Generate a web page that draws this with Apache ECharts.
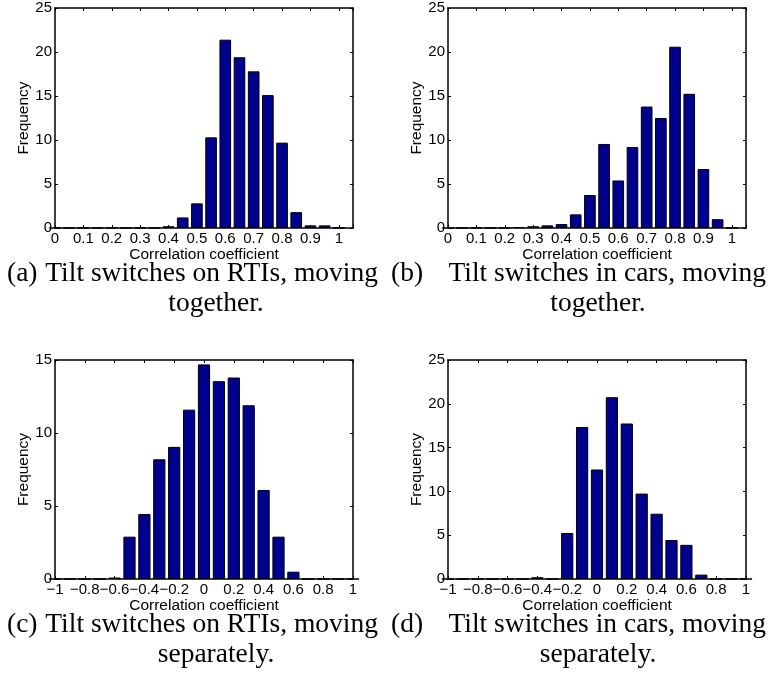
<!DOCTYPE html>
<html>
<head>
<meta charset="utf-8">
<script src="https://cdn.jsdelivr.net/npm/echarts@6/dist/echarts.min.js"></script>
<style>
  html, body { margin: 0; padding: 0; background: #ffffff; }
  #chart { width: 768px; height: 680px; }
</style>
</head>
<body>
<div id="chart"></div>
<script>
// Histogram bin centres
const binsTogether = [0, 0.05, 0.1, 0.15, 0.2, 0.25, 0.3, 0.35, 0.4, 0.45, 0.5,
                      0.55, 0.6, 0.65, 0.7, 0.75, 0.8, 0.85, 0.9, 0.95, 1];
const binsSeparate = [-1, -0.9, -0.8, -0.7, -0.6, -0.5, -0.4, -0.3, -0.2, -0.1, 0,
                      0.1, 0.2, 0.3, 0.4, 0.5, 0.6, 0.7, 0.8, 0.9, 1];

// Frequencies (%) per bin
const freqRtiTogether = [0, 0, 0, 0, 0, 0, 0, 0, 0.2, 1.2, 2.8,
                         10.3, 21.4, 19.4, 17.8, 15.1, 9.7, 1.8, 0.3, 0.3, 0];
const freqCarTogether = [0, 0, 0, 0, 0, 0.1, 0.2, 0.3, 0.45, 1.55, 3.75,
                         9.55, 5.4, 9.2, 13.8, 12.5, 20.6, 15.25, 6.7, 1.0, 0];
const freqRtiSeparate = [0, 0, 0, 0, 0.1, 2.9, 4.45, 8.2, 9.05, 11.6, 14.7,
                         13.55, 13.8, 11.9, 6.1, 2.9, 0.5, 0, 0, 0, 0];
const freqCarSeparate = [0, 0, 0, 0, 0, 0, 0.2, 0, 5.25, 17.35, 12.5,
                         20.75, 17.75, 9.75, 7.45, 4.45, 3.9, 0.5, 0, 0, 0];

// Tick values and labels
const xTicksTogether = [0, 0.1, 0.2, 0.3, 0.4, 0.5, 0.6, 0.7, 0.8, 0.9, 1];
const xLabelsTogether = ['0', '0.1', '0.2', '0.3', '0.4', '0.5', '0.6', '0.7', '0.8', '0.9', '1'];
const xTicksSeparate = [-1, -0.8, -0.6, -0.4, -0.2, 0, 0.2, 0.4, 0.6, 0.8, 1];
const xLabelsSeparate = ['\u22121', '\u22120.8', '\u22120.6', '\u22120.4', '\u22120.2', '0', '0.2', '0.4', '0.6', '0.8', '1'];
const yTicks25 = [0, 5, 10, 15, 20, 25];
const yLabels25 = ['0', '5', '10', '15', '20', '25'];
const yTicks15 = [0, 5, 10, 15];
const yLabels15 = ['0', '5', '10', '15'];

const xAxisTitle = 'Correlation coefficient';
const yAxisTitle = 'Frequency';

const captionLabels = ['(a)', '(b)', '(c)', '(d)'];
const captionLines1 = ['Tilt switches on RTIs, moving', 'Tilt switches in cars, moving',
                       'Tilt switches on RTIs, moving', 'Tilt switches in cars, moving'];
const captionLines2 = ['together.', 'together.', 'separately.', 'separately.'];

// Panel setup: grid rectangle [left, top, width, height] and axis ranges
const panels = [
  { rect: [55, 8, 298, 220],   bins: binsTogether, freq: freqRtiTogether, xMin: 0,  xMax: 1.05, xInt: 0.1, xt: xTicksTogether, xl: xLabelsTogether, yMax: 25, yt: yTicks25, yl: yLabels25 },
  { rect: [448, 8, 298, 220],  bins: binsTogether, freq: freqCarTogether, xMin: 0,  xMax: 1.05, xInt: 0.1, xt: xTicksTogether, xl: xLabelsTogether, yMax: 25, yt: yTicks25, yl: yLabels25 },
  { rect: [55, 360, 298, 219], bins: binsSeparate, freq: freqRtiSeparate, xMin: -1, xMax: 1,    xInt: 0.2, xt: xTicksSeparate, xl: xLabelsSeparate, yMax: 15, yt: yTicks15, yl: yLabels15 },
  { rect: [448, 360, 298, 219],bins: binsSeparate, freq: freqCarSeparate, xMin: -1, xMax: 1,    xInt: 0.2, xt: xTicksSeparate, xl: xLabelsSeparate, yMax: 25, yt: yTicks25, yl: yLabels25 }
];

const sansFont = 'Liberation Sans, Arial, Helvetica, sans-serif';
const serifFont = 'Liberation Serif, Times New Roman, serif';
const ink = '#000000';

function labelFor(ticks, labels) {
  return function (v) {
    for (let j = 0; j < ticks.length; j++) {
      if (Math.abs(ticks[j] - v) < 1e-6) return labels[j];
    }
    return '';
  };
}

const grids = [], xAxes = [], yAxes = [], series = [];

panels.forEach(function (p, i) {
  grids.push({ left: p.rect[0], top: p.rect[1], width: p.rect[2], height: p.rect[3], containLabel: false });

  const tick = { show: true, inside: true, length: 3, lineStyle: { color: ink, width: 1 } };
  const line = { show: true, onZero: false, lineStyle: { color: ink, width: 1.5 } };

  // bottom axis with labels
  xAxes.push({
    type: 'value', gridIndex: i, position: 'bottom', min: p.xMin, max: p.xMax, interval: p.xInt,
    axisLine: line, axisTick: tick, splitLine: { show: false },
    axisLabel: { show: true, margin: 3, color: ink, fontFamily: sansFont, fontSize: 15,
                 formatter: labelFor(p.xt, p.xl) },
    name: xAxisTitle, nameLocation: 'middle', nameGap: 16,
    nameTextStyle: { color: ink, fontFamily: sansFont, fontSize: 15.5 }
  });
  // top mirror axis
  xAxes.push({
    type: 'value', gridIndex: i, position: 'top', min: p.xMin, max: p.xMax, interval: p.xInt,
    axisLine: line, axisTick: tick, splitLine: { show: false }, axisLabel: { show: false }
  });
  // left axis with labels
  yAxes.push({
    type: 'value', gridIndex: i, position: 'left', min: 0, max: p.yMax, interval: 5,
    axisLine: line, axisTick: tick, splitLine: { show: false },
    axisLabel: { show: true, margin: 3, color: ink, fontFamily: sansFont, fontSize: 15,
                 formatter: labelFor(p.yt, p.yl) },
    name: yAxisTitle, nameLocation: 'middle', nameGap: 18, nameRotate: 90,
    nameTextStyle: { color: ink, fontFamily: sansFont, fontSize: 15.5 }
  });
  // right mirror axis
  yAxes.push({
    type: 'value', gridIndex: i, position: 'right', min: 0, max: p.yMax, interval: 5,
    axisLine: line, axisTick: tick, splitLine: { show: false }, axisLabel: { show: false }
  });

  series.push({
    type: 'bar',
    xAxisIndex: 2 * i,
    yAxisIndex: 2 * i,
    data: p.bins.map(function (b, k) { return [b, p.freq[k]]; }),
    barWidth: '82%',
    itemStyle: { color: '#00008f', borderColor: '#000000', borderWidth: 1 },
    emphasis: { disabled: true },
    silent: true
  });
});

// Sub-figure captions
const captionGraphics = [];
const captionPos = [
  { lx: 7,   rx: 378, cx: 216, y1: 274, y2: 304 },
  { lx: 391, rx: 766, cx: 598, y1: 274, y2: 304 },
  { lx: 7,   rx: 378, cx: 216, y1: 625, y2: 655 },
  { lx: 391, rx: 766, cx: 598, y1: 625, y2: 655 }
];
captionPos.forEach(function (c, i) {
  const f = '27.5px ' + serifFont;
  captionGraphics.push({ type: 'text', style: { text: captionLabels[i], x: c.lx, y: c.y1, font: f, fill: ink, textAlign: 'left', textVerticalAlign: 'middle' } });
  captionGraphics.push({ type: 'text', style: { text: captionLines1[i], x: c.rx, y: c.y1, font: f, fill: ink, textAlign: 'right', textVerticalAlign: 'middle' } });
  captionGraphics.push({ type: 'text', style: { text: captionLines2[i], x: c.cx, y: c.y2, font: f, fill: ink, textAlign: 'center', textVerticalAlign: 'middle' } });
});

const chart = echarts.init(document.getElementById('chart'), null, { renderer: 'canvas' });
chart.setOption({
  animation: false,
  backgroundColor: '#ffffff',
  grid: grids,
  xAxis: xAxes,
  yAxis: yAxes,
  series: series,
  graphic: captionGraphics
});
</script>
</body>
</html>
